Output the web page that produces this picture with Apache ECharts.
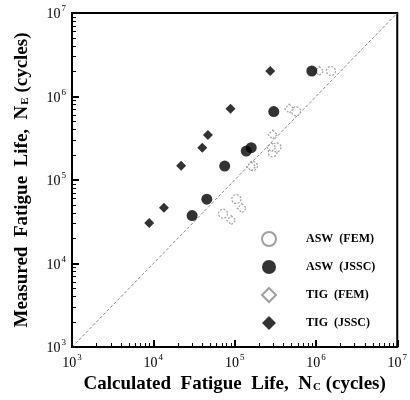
<!DOCTYPE html>
<html><head><meta charset="utf-8">
<script src="https://cdn.jsdelivr.net/npm/echarts@6/dist/echarts.min.js"></script>
<style>html,body{margin:0;padding:0;background:#fff}#c{width:410px;height:400px}</style>
</head><body><div id="c"></div>
<script>
// Data: [calculated Nc, measured Ne]
const aswFem  = [[7.2e4,3.95e4],[1.05e5,5.9e4],[1.68e5,1.47e5],[2.94e5,2.15e5],[3.27e5,2.46e5],[5.7e5,6.65e5],[1.53e6,2.02e6]];
const aswJssc = [[3.0e4,3.75e4],[4.55e4,5.9e4],[7.55e4,1.47e5],[1.39e5,2.22e5],[1.6e5,2.44e5],[3.03e5,6.6e5],[8.9e5,2.02e6]];
const tigFem  = [[9.1e4,3.3e4],[1.23e5,4.6e4],[1.6e5,1.45e5],[2.84e5,2.46e5],[2.94e5,3.5e5],[4.7e5,7.15e5],[1.1e6,2.02e6]];
const tigJssc = [[8.9e3,3.05e4],[1.35e4,4.65e4],[2.2e4,1.48e5],[4.0e4,2.44e5],[4.7e4,3.45e5],[8.9e4,7.15e5],[2.74e5,2.02e6]];
const diagonal = [[1e3,1e3],[1e7,1e7]];
const seriesNames = ['ASW  (FEM)','ASW  (JSSC)','TIG  (FEM)','TIG  (JSSC)'];
const xAxisTitle = ['Calculated  Fatigue  Life,  N','C',' (cycles)'];
const yAxisTitle = ['Measured  Fatigue  Life,  N','E',' (cycles)'];
const decades = [3,4,5,6];
const minorMultipliers = [2,3,4,5,6,7,8,9];
const axisMin = 1e3, axisMax = 1e7;

// minor tick positions in exponent space (overlaid value axis spanning 3..7)
const minorExps = [];
decades.forEach(d => minorMultipliers.forEach(m => minorExps.push(Math.log10(m * Math.pow(10, d)))));

const serif = '"Liberation Serif","DejaVu Serif",serif';
const tickRich = {
  b:{fontFamily:serif,fontSize:14,color:'#000',verticalAlign:'bottom'},
  s:{fontFamily:serif,fontSize:9,color:'#000',verticalAlign:'top',padding:[0,0,8,1]}
};
function tickFmt(v){ return '{b|10}{s|' + Math.round(Math.log10(v)) + '}'; }
const nameRich = {
  n:{fontFamily:serif,fontSize:19,fontWeight:'bold',color:'#000'},
  sub:{fontFamily:serif,fontSize:11,fontWeight:'bold',color:'#000',padding:[6,0,0,1]}
};
function title(a){ return '{n|' + a[0] + '}{sub|' + a[1] + '}{n|' + a[2] + '}'; }

function mainAxis(){
  return {
    type:'log', logBase:10, min:axisMin, max:axisMax,
    axisLine:{show:true,lineStyle:{color:'#000',width:2}},
    axisTick:{show:true,inside:true,length:7,lineStyle:{color:'#000',width:2}},
    axisLabel:{formatter:tickFmt,rich:tickRich,margin:6},
    splitLine:{show:false},
    nameLocation:'middle', z:5
  };
}
function minorAxis(pos){
  return {
    type:'value', min:3, max:7, interval:1, position:pos,
    axisLine:{show:true,lineStyle:{color:'rgba(0,0,0,0)'}},
    axisTick:{show:true,inside:true,length:4,customValues:minorExps,lineStyle:{color:'#000',width:1}},
    axisLabel:{show:false},
    splitLine:{show:false}, z:6
  };
}
const openStyle = {color:'#fff',borderColor:'#888',borderWidth:1.2,borderType:[2,1.5]};

const chart = echarts.init(document.getElementById('c'));
chart.setOption({
  backgroundColor:'#fff',
  animation:false,
  grid:{left:72,right:12,top:13,bottom:53,show:true,borderColor:'#000',borderWidth:2,backgroundColor:'transparent'},
  xAxis:[
    Object.assign(mainAxis(),{name:title(xAxisTitle), nameGap:21, nameTextStyle:{rich:nameRich}}),
    minorAxis('bottom')
  ],
  yAxis:[
    Object.assign(mainAxis(),{name:title(yAxisTitle), nameGap:40, nameRotate:90, nameTextStyle:{rich:nameRich}}),
    minorAxis('left')
  ],
  legend:{
    orient:'vertical', left:256, top:226, itemWidth:14, itemHeight:14, itemGap:13,
    data:seriesNames,
    textStyle:{fontFamily:serif,fontSize:12,fontWeight:'bold',color:'#000',padding:[0,0,0,25]}
  },
  series:[
    {type:'line',data:diagonal,symbol:'none',silent:true,lineStyle:{color:'#888',width:1,type:[3,2]},z:1},
    {name:seriesNames[0],type:'scatter',symbol:'circle',symbolSize:9,data:aswFem,itemStyle:openStyle,z:3},
    {name:seriesNames[1],type:'scatter',symbol:'circle',symbolSize:11,data:aswJssc,itemStyle:{color:'#000'},z:4},
    {name:seriesNames[2],type:'scatter',symbol:'diamond',symbolSize:9,data:tigFem,itemStyle:openStyle,z:3},
    {name:seriesNames[3],type:'scatter',symbol:'diamond',symbolSize:10,data:tigJssc,itemStyle:{color:'#000'},z:4}
  ]
});
</script></body></html>
